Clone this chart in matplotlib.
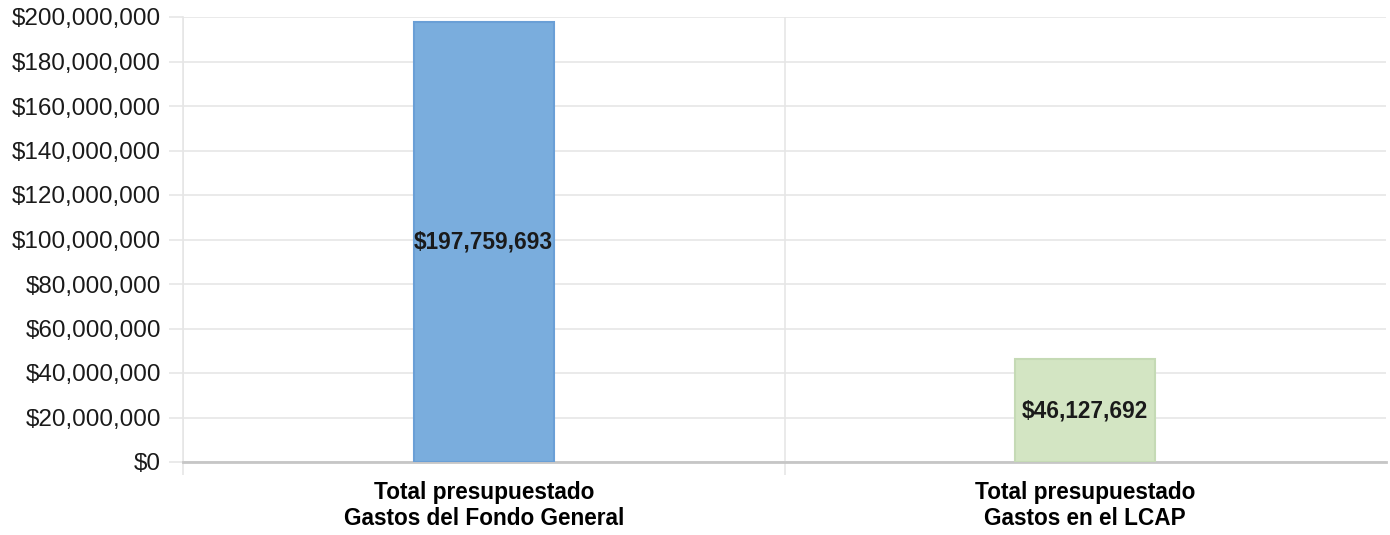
import matplotlib.pyplot as plt
from matplotlib.ticker import FuncFormatter, FixedLocator

plt.rcParams['font.family'] = ['Liberation Sans', 'DejaVu Sans']

categories = ["Total presupuestado\nGastos del Fondo General",
              "Total presupuestado\nGastos en el LCAP"]
values = [197759693, 46127692]
bar_colors = ["#7aaddd", "#d3e5c3"]
edge_colors = ["#6a9fd6", "#c5dab5"]
y_ticks = list(range(0, 200000001, 20000000))

grid_col = "#e6e6e6"

fig = plt.figure(figsize=(13.9, 5.35), dpi=100)
ax = fig.add_axes([183 / 1390, 73 / 535, 1203 / 1390, 445 / 535])

x = list(range(len(categories)))
bars = ax.bar(x, values, width=0.233, color=bar_colors, edgecolor=edge_colors,
              linewidth=1.5, zorder=3)

for b, v in zip(bars, values):
    ax.text(b.get_x() + b.get_width() / 2, v / 2, "${:,.0f}".format(v),
            ha="center", va="center", fontsize=16.3, fontweight="bold",
            color="#1a1a1a", zorder=4)

ax.set_xlim(-0.5, 1.5)
ax.set_ylim(0, 200000000)
ax.set_yticks(y_ticks)
ax.yaxis.set_major_formatter(FuncFormatter(lambda v, p: "${:,.0f}".format(v)))

ax.set_xticks(x)
ax.set_xticklabels(categories, fontsize=16.3, fontweight="bold", linespacing=1.15)
ax.xaxis.set_minor_locator(FixedLocator([-0.5, 0.5]))
ax.tick_params(axis="x", which="major", length=0, pad=14)
ax.tick_params(axis="x", which="minor", length=9, color=grid_col, width=1.2)
ax.tick_params(axis="y", length=10, color=grid_col, width=1.2, labelsize=17.5,
               pad=6, labelcolor="#1a1a1a")

ax.grid(axis="y", color=grid_col, linewidth=1.2, zorder=0)
ax.grid(axis="x", which="minor", color=grid_col, linewidth=1.2, zorder=0)
ax.set_axisbelow(True)

for s in ["top", "right"]:
    ax.spines[s].set_visible(False)
ax.spines["left"].set_color(grid_col)
ax.spines["left"].set_linewidth(1.2)
ax.spines["bottom"].set_color("#c6c6c6")
ax.spines["bottom"].set_linewidth(2)

fig.savefig("out.png", dpi=100)
